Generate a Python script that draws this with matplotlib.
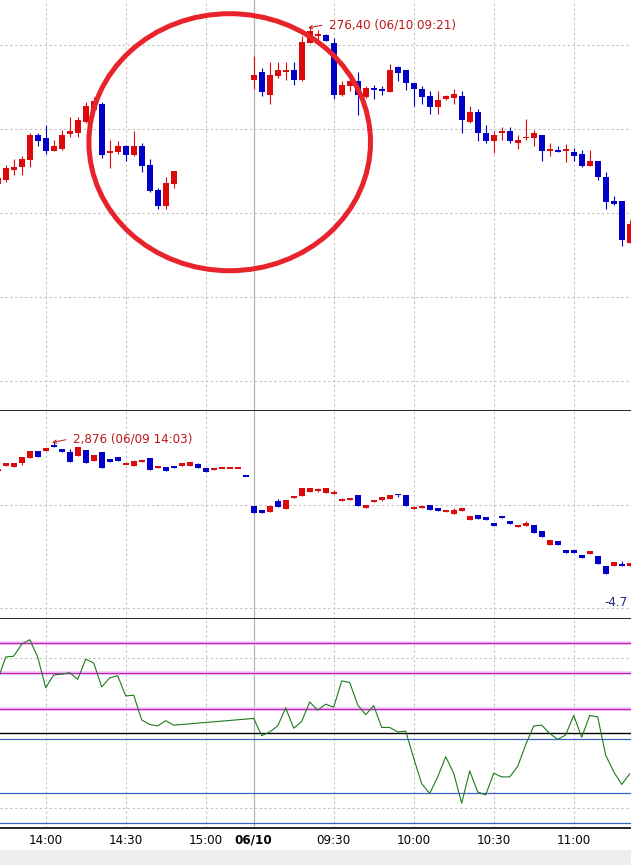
import numpy as np
import matplotlib
matplotlib.use('Agg')
import matplotlib.pyplot as plt
from matplotlib.patches import Ellipse, Rectangle

plt.rcParams['font.family'] = ['DejaVu Sans']
plt.rcParams['font.stretch'] = 'condensed'

# 3-minute bars, slot 0 = 06/09 13:45, slot 31 = 06/10 09:00
slots = np.arange(-1, 79)
tick_slots = [5, 15, 25, 31, 41, 51, 61, 71]
tick_labels = ['14:00', '14:30', '15:00', '06/10', '09:30', '10:00', '10:30', '11:00']
day_break = 31

nan = np.nan
gap = [nan] * 9

# top panel (index), slots -1..21 of 06/09, nothing 22..30, then 06/10
p_open = [274.54, 274.59, 274.71, 274.74, 274.83, 275.13, 275.09, 274.94, 274.96, 275.14, 275.15, 275.28,
          275.42, 275.50, 274.92, 274.92, 275.00, 274.89, 275.00, 274.77, 274.47, 274.28, 274.54] + gap + \
         [275.78, 275.87, 275.60, 275.83, 275.89, 275.90, 275.78, 276.22, 276.32, 276.32, 276.22, 275.60,
          275.71, 275.77, 275.58, 275.68, 275.67, 275.64, 275.93, 275.90, 275.74, 275.67, 275.59, 275.46,
          275.55, 275.57, 275.59, 275.28, 275.40, 275.15, 275.06, 275.15, 275.17, 275.03, 275.09, 275.09,
          275.13, 274.94, 274.95, 274.94, 274.92, 274.90, 274.76, 274.82, 274.63, 274.34, 274.34, 273.84]
p_close = [274.61, 274.73, 274.75, 274.84, 275.13, 275.06, 274.94, 275.00, 275.13, 275.17, 275.30, 275.47,
           275.53, 274.89, 274.92, 275.00, 274.89, 275.00, 274.76, 274.46, 274.28, 274.56, 274.70] + gap + \
          [275.84, 275.64, 275.84, 275.90, 275.89, 275.78, 276.23, 276.36, 276.32, 276.24, 275.60, 275.72,
           275.77, 275.60, 275.69, 275.67, 275.65, 275.90, 275.86, 275.74, 275.67, 275.58, 275.46, 275.54,
           275.59, 275.61, 275.31, 275.40, 275.15, 275.06, 275.13, 275.17, 275.06, 275.07, 275.10, 275.15,
           274.94, 274.95, 274.92, 274.95, 274.87, 274.76, 274.82, 274.62, 274.33, 274.31, 273.87, 274.07]
p_high = [274.63, 274.77, 274.84, 274.87, 275.15, 275.15, 275.25, 275.07, 275.19, 275.34, 275.34, 275.52,
          275.58, 275.52, 275.07, 275.05, 275.01, 275.17, 275.03, 274.84, 274.49, 274.62, 274.70] + gap + \
         [276.07, 275.92, 275.99, 275.99, 275.99, 275.99, 276.30, 276.40, 276.38, 276.33, 276.28, 275.77,
          275.79, 275.87, 275.71, 275.72, 275.71, 275.97, 275.95, 275.90, 275.74, 275.71, 275.65, 275.65,
          275.60, 275.67, 275.65, 275.47, 275.44, 275.25, 275.17, 275.22, 275.22, 275.13, 275.32, 275.19,
          275.13, 275.03, 275.00, 275.02, 274.97, 274.95, 274.95, 274.82, 274.68, 274.40, 274.34, 274.11]
p_low = [274.52, 274.57, 274.65, 274.65, 274.75, 275.00, 274.90, 274.94, 274.95, 275.10, 275.10, 275.27,
         275.39, 274.85, 274.73, 274.90, 274.82, 274.88, 274.68, 274.45, 274.25, 274.25, 274.50] + gap + \
        [275.67, 275.59, 275.50, 275.80, 275.78, 275.72, 275.77, 276.22, 276.23, 276.24, 275.55, 275.59,
         275.65, 275.36, 275.57, 275.55, 275.60, 275.64, 275.77, 275.66, 275.47, 275.50, 275.37, 275.37,
         275.54, 275.50, 275.15, 275.27, 275.05, 275.03, 274.91, 275.07, 275.03, 274.96, 275.07, 275.00,
         274.82, 274.88, 274.92, 274.80, 274.82, 274.75, 274.76, 274.59, 274.25, 274.29, 273.80, 273.84]
p_hi_label = '276,40 (06/10 09:21)'
p_hi_slot = 38

# middle panel
m_open = [1.58, 1.80, 1.77, 1.92, 2.15, 2.49, 2.50, 2.73, 2.56, 2.45, 2.27, 2.53, 2.04, 2.43, 2.12, 2.22,
          1.88, 1.81, 2.00, 2.15, 1.69, 1.74, 1.81, 1.81, 1.81, 1.88, 1.69, 1.60, 1.70, 1.70, 1.70, 1.34,
          -0.03, -0.22, -0.29, 0.21, -0.18, 0.38, 0.44, 0.62, 0.67, 0.58, 0.53, 0.18, 0.26, 0.47, -0.11, 0.16,
          0.24, 0.29, 0.52, 0.47, -0.17, -0.11, 0.00, -0.12, -0.31, -0.40, -0.26, -0.66, -0.46, -0.54, -0.81, -0.53,
          -0.72, -0.99, -0.93, -0.92, -1.18, -1.80, -1.63, -2.06, -2.06, -2.27, -2.22, -2.31, -2.79, -2.76, -2.67, -2.79]
m_close = [1.66, 1.92, 1.95, 2.22, 2.49, 2.22, 2.64, 2.68, 2.45, 1.97, 2.68, 1.92, 2.30, 1.72, 2.00, 2.04,
           1.92, 2.03, 2.04, 1.62, 1.80, 1.58, 1.69, 1.92, 2.00, 1.72, 1.54, 1.72, 1.71, 1.71, 1.71, 1.32,
           -0.34, -0.37, -0.02, -0.06, 0.24, 0.40, 0.78, 0.81, 0.73, 0.81, 0.62, 0.27, 0.35, -0.03, 0.01, 0.26,
           0.39, 0.47, 0.46, -0.03, -0.06, -0.06, -0.22, -0.26, -0.22, -0.22, -0.12, -0.49, -0.61, -0.66, -0.93, -0.57,
           -0.86, -0.90, -0.81, -1.25, -1.44, -1.59, -1.80, -2.17, -2.17, -2.40, -2.09, -2.70, -3.13, -2.61, -2.79, -2.64]
m_high = [1.66, 1.92, 1.95, 2.22, 2.49, 2.49, 2.64, 2.876, 2.56, 2.56, 2.68, 2.53, 2.30, 2.43, 2.12, 2.22,
          1.92, 2.07, 2.04, 2.15, 1.80, 1.74, 1.81, 1.92, 2.00, 1.92, 1.69, 1.72, 1.71, 1.71, 1.71, 1.34,
          -0.03, -0.22, -0.02, 0.27, 0.24, 0.44, 0.78, 0.81, 0.80, 0.81, 0.70, 0.32, 0.35, 0.47, 0.01, 0.26,
          0.39, 0.47, 0.52, 0.47, -0.06, -0.06, 0.00, -0.12, -0.22, -0.14, -0.12, -0.49, -0.46, -0.54, -0.81, -0.53,
          -0.72, -0.90, -0.72, -0.92, -1.18, -1.59, -1.63, -2.06, -2.06, -2.27, -2.09, -2.31, -2.79, -2.61, -2.53, -2.64]
m_low = [1.58, 1.80, 1.77, 1.84, 2.15, 2.22, 2.50, 2.68, 2.45, 1.97, 2.27, 1.92, 2.04, 1.72, 2.00, 2.04,
         1.88, 1.81, 2.00, 1.62, 1.69, 1.58, 1.69, 1.81, 1.81, 1.72, 1.54, 1.60, 1.70, 1.70, 1.70, 1.32,
         -0.34, -0.37, -0.29, -0.06, -0.18, 0.35, 0.44, 0.62, 0.62, 0.58, 0.53, 0.18, 0.26, -0.03, -0.11, 0.16,
         0.21, 0.29, 0.40, -0.03, -0.17, -0.11, -0.22, -0.26, -0.31, -0.40, -0.26, -0.66, -0.61, -0.66, -0.93, -0.57,
         -0.86, -0.99, -0.93, -1.25, -1.44, -1.80, -1.80, -2.17, -2.17, -2.40, -2.22, -2.70, -3.13, -2.76, -2.79, -2.79]
m_hi_label = '2,876 (06/09 14:03)'
m_hi_slot = 6
m_low_label = '-4.7'
m_grid = [0.0, -4.7]

# bottom panel oscillator
osc = [0.70, 1.01, 1.02, 1.18, 1.24, 1.01, 0.60, 0.77, 0.78, 0.80, 0.71, 0.98, 0.93, 0.61, 0.73, 0.76,
       0.49, 0.50, 0.17, 0.11, 0.09, 0.16, 0.10] + gap + \
      [0.19, -0.04, 0.01, 0.09, 0.33, 0.06, 0.15, 0.41, 0.30, 0.38, 0.34, 0.69, 0.67, 0.37, 0.24, 0.36,
       0.07, 0.07, 0.01, 0.02, -0.34, -0.68, -0.81, -0.59, -0.32, -0.54, -0.94, -0.51, -0.79, -0.83, -0.54, -0.59,
       -0.59, -0.45, -0.16, 0.09, 0.10, -0.01, -0.09, -0.03, 0.23, -0.06, 0.23, 0.21, -0.30, -0.52, -0.69, -0.55]
upper_levels = [1.2, 0.8, 0.31]
lower_levels = [-0.08, -0.8, -1.2]
osc_grid = [1.0, -1.0]

RED = '#dc0a0a'
BLUE = '#0000c8'
GRID = '#c4c4c4'
LABEL_RED = '#c01818'

W, H = 631, 865
fig = plt.figure(figsize=(W / 100, H / 100), dpi=100)
fig.patch.set_facecolor('white')

ax1 = fig.add_axes([0, (H - 411) / H, 1, 411 / H])
ax2 = fig.add_axes([0, (H - 619) / H, 1, 208 / H])
ax3 = fig.add_axes([0, (H - 828.3) / H, 1, 209.3 / H])

xlim = (-5.7 / 8, (W - 5.7) / 8)
ax1.set_ylim(271.84, 276.733)
ax2.set_ylim(-5.204, 4.316)
ax3.set_ylim(-1.275, 1.516)

for ax in (ax1, ax2, ax3):
    ax.set_xlim(*xlim)
    for s in ('left', 'right', 'top'):
        ax.spines[s].set_visible(False)
    ax.spines['bottom'].set_color('black')
    ax.spines['bottom'].set_linewidth(1.2)
    ax.set_yticks([])
    ax.set_xticks([])
    for t in tick_slots:
        if t == day_break:
            ax.axvline(t, color='#b4b4b4', lw=0.9, zorder=0)
        else:
            ax.axvline(t, color=GRID, lw=0.8, ls=(0, (2.2, 2.2)), zorder=0)

# top grid lines every 1.0 point
for g in np.arange(276.197, 271.9, -1.0):
    ax1.axhline(g, color=GRID, lw=0.8, ls=(0, (2.2, 2.2)), zorder=0)
for g in m_grid:
    ax2.axhline(g, color=GRID, lw=0.8, ls=(0, (2.2, 2.2)), zorder=0)
for g in osc_grid:
    ax3.axhline(g, color=GRID, lw=0.8, ls=(0, (2.2, 2.2)), zorder=0)


def candles(ax, o, h, l, c, px):
    o, h, l, c = (np.array(v, dtype=float) for v in (o, h, l, c))
    ok = ~np.isnan(o)
    ylo, yhi = ax.get_ylim()
    axh = ax.get_position().height * H
    minh = px * (yhi - ylo) / axh
    body = np.abs(c - o)
    hgt = np.maximum(body, minh)
    bot = np.minimum(o, c) - (hgt - body) / 2
    col = np.where(c >= o, RED, BLUE)
    ax.vlines(slots[ok], l[ok], h[ok], colors=col[ok], lw=0.8, zorder=2)
    ax.bar(slots[ok], hgt[ok], bottom=bot[ok], width=0.8, color=col[ok], lw=0, zorder=3)


candles(ax1, p_open, p_high, p_low, p_close, 1.8)
candles(ax2, m_open, m_high, m_low, m_close, 1.8)


def high_note(ax, slot, val, text):
    ax.annotate('', xy=(slot - 0.2, val), xytext=(10, 2), textcoords='offset points',
                arrowprops=dict(arrowstyle='->', color=LABEL_RED, lw=0.7,
                                shrinkA=0, shrinkB=0, mutation_scale=6))
    ax.annotate(text, xy=(slot, val), xytext=(14, 2.3), textcoords='offset points',
                ha='left', va='center', fontsize=9.5, color=LABEL_RED, zorder=5)


high_note(ax1, p_hi_slot, max(v for v in p_high if v == v), p_hi_label)
high_note(ax2, m_hi_slot, max(m_high), m_hi_label)

ax2.annotate(m_low_label, xy=(1, m_grid[1]), xycoords=('axes fraction', 'data'),
             xytext=(-3, 5), textcoords='offset pixels', ha='right', va='center',
             fontsize=9.5, color='#1a2a8a', annotation_clip=False)

# circled area
ax1.add_patch(Ellipse((28.0, 275.04), width=35.2, height=3.06, fill=False,
                      ec='#e8232b', lw=3.6, zorder=6))

# oscillator panel
for lv in upper_levels:
    ax3.axhline(lv, color='#f4c8f4', lw=2.6, zorder=1)
    ax3.axhline(lv, color='#c020c0', lw=0.9, zorder=1)
ax3.axhline(0, color='black', lw=1.0, zorder=1)
for lv in lower_levels:
    ax3.axhline(lv, color='#3a62c8', lw=0.9, zorder=1)
osc_a = np.array(osc, dtype=float)
okk = ~np.isnan(osc_a)
ax3.plot(slots[okk], osc_a[okk], color='#1e7a1e', lw=0.8, zorder=4)

ax3.set_xticks(tick_slots)
ax3.set_xticklabels(tick_labels, fontsize=9.5)
ax3.tick_params(axis='x', length=0, pad=4)
for lab in ax3.get_xticklabels():
    if lab.get_text() == '06/10':
        lab.set_fontweight('bold')

fig.add_artist(Rectangle((0, 0), 1, 15 / H, transform=fig.transFigure,
                         facecolor='#eeeeee', edgecolor='none'))

fig.savefig('out.png', dpi=100)
